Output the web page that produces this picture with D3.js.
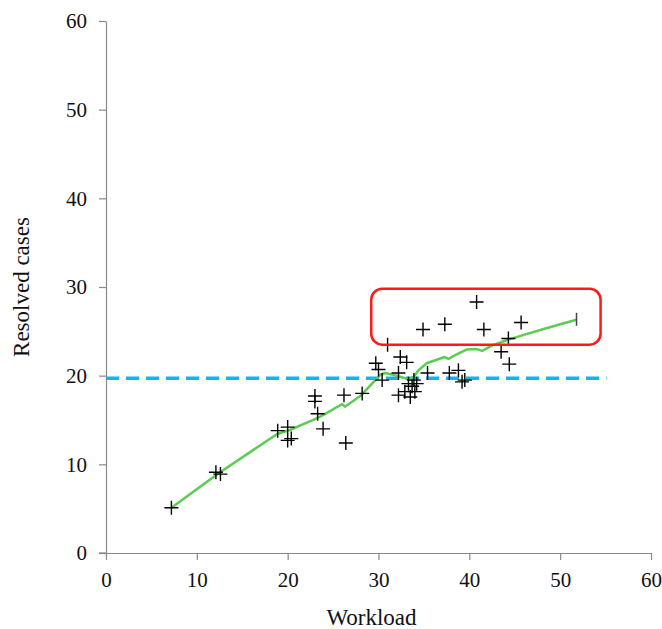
<!DOCTYPE html>
<html>
<head>
<meta charset="utf-8">
<script src="https://cdn.jsdelivr.net/npm/d3@7"></script>
<style>
  body { margin: 0; background: #fff; }
  .axis path, .axis line { stroke: #888; stroke-width: 1.2; }
  .axis text { font-family: "Liberation Serif", "Times New Roman", serif; font-size: 21px; fill: #111; }
  .title { font-family: "Liberation Serif", "Times New Roman", serif; font-size: 23px; fill: #111; }
</style>
</head>
<body>
<div id="chart"></div>
<script>
// scatter: workload vs resolved cases
var workload = [7.2, 12.1, 12.6, 18.9, 20.0, 20.0, 20.4, 23.0, 23.0, 23.3, 23.9, 26.2, 26.4, 28.2,
                29.7, 30.0, 30.4, 31.0, 32.2, 32.4, 33.1, 32.2, 32.9, 33.3, 33.5, 33.7, 33.9, 34.0,
                34.2, 35.4, 37.8, 38.8, 39.2, 39.5, 43.5, 44.4, 44.3, 40.8, 34.9, 37.3, 41.6, 45.7];
var resolved = [5.1, 9.1, 8.9, 13.8, 14.2, 12.7, 12.9, 17.7, 17.1, 15.7, 14.0, 17.8, 12.4, 18.0,
                21.4, 20.7, 19.5, 23.5, 20.3, 22.1, 21.5, 17.8, 18.2, 19.1, 17.6, 18.8, 19.5, 18.2,
                19.1, 20.3, 20.3, 20.6, 19.3, 19.5, 22.7, 21.3, 24.2, 28.3, 25.2, 25.8, 25.2, 26.0];

// smoothed trend (green)
var trendX = [7.2, 12.4, 18.8, 20.3, 23.0, 24.0, 26.0, 26.3, 28.0, 29.1, 30.2, 30.7, 31.6, 33.3, 33.9,
              34.4, 35.3, 36.4, 37.3, 37.7, 38.6, 39.7, 40.8, 41.4, 42.6, 44.1, 46.0, 48.0, 50.0, 51.8];
var trendY = [5.1, 9.0, 13.4, 13.9, 15.1, 15.6, 16.8, 16.5, 17.7, 18.9, 20.1, 20.3, 20.1, 19.6, 19.9,
              20.6, 21.4, 21.8, 22.1, 21.9, 22.4, 22.95, 23.0, 22.8, 23.45, 24.0, 24.6, 25.2, 25.8, 26.3];

var meanLevel = 19.7, meanEnd = 55.1;
var boxX = [29.2, 54.45], boxY = [23.5, 29.8];

var xTicks = [0, 10, 20, 30, 40, 50, 60];
var yTicks = [0, 10, 20, 30, 40, 50, 60];

var W = 662, H = 629;

var svg = d3.select("#chart").append("svg")
    .attr("width", W)
    .attr("height", H);

var x = d3.scaleLinear().domain([0, 60]).range([106, 651]);
var y = d3.scaleLinear().domain([0, 60]).range([553, 21]);

var xAxis = d3.axisBottom(x).tickValues(xTicks).tickSize(7).tickPadding(12).tickSizeOuter(0);
var yAxis = d3.axisLeft(y).tickValues(yTicks).tickSize(7).tickPadding(12).tickSizeOuter(0);

svg.append("g")
    .attr("class", "axis")
    .attr("transform", "translate(0," + y(0) + ")")
    .call(xAxis);

svg.append("g")
    .attr("class", "axis")
    .attr("transform", "translate(" + x(0) + ",0)")
    .call(yAxis);

// extend x axis line left to meet the 0 tick of y axis
svg.append("line")
    .attr("x1", x(0) - 7).attr("x2", x(0))
    .attr("y1", y(0)).attr("y2", y(0))
    .attr("stroke", "#888").attr("stroke-width", 1.2);

svg.append("text")
    .attr("class", "title")
    .attr("x", (x(0) + x(60)) / 2 - 7)
    .attr("y", 625)
    .attr("text-anchor", "middle")
    .text("Workload");

svg.append("text")
    .attr("class", "title")
    .attr("transform", "translate(29," + y(30) + ") rotate(-90)")
    .attr("text-anchor", "middle")
    .text("Resolved cases");

// mean line
svg.append("line")
    .attr("x1", x(0)).attr("x2", x(meanEnd))
    .attr("y1", y(meanLevel)).attr("y2", y(meanLevel))
    .attr("stroke", "#16b4ec")
    .attr("stroke-width", 3.5)
    .attr("stroke-dasharray", "13,7");

// trend line
var trend = d3.zip(trendX, trendY);
var line = d3.line()
    .x(function(d) { return x(d[0]); })
    .y(function(d) { return y(d[1]); });

svg.append("path")
    .datum(trend)
    .attr("d", line)
    .attr("fill", "none")
    .attr("stroke", "#5ccc52")
    .attr("stroke-width", 2.5)
    .attr("stroke-linejoin", "round");

var last = trend[trend.length - 1];
svg.append("line")
    .attr("x1", x(last[0])).attr("x2", x(last[0]))
    .attr("y1", y(last[1]) - 7).attr("y2", y(last[1]) + 6)
    .attr("stroke", "#444").attr("stroke-width", 1.5);

// points as plus markers
var pts = d3.zip(workload, resolved);
var s = 7;
svg.append("g").selectAll("path")
    .data(pts)
  .enter().append("path")
    .attr("d", function(d) {
      var cx = x(d[0]), cy = y(d[1]);
      return "M" + (cx - s) + "," + cy + "H" + (cx + s) + "M" + cx + "," + (cy - s) + "V" + (cy + s);
    })
    .attr("stroke", "#000")
    .attr("stroke-width", 1.4)
    .attr("fill", "none");

// highlight box
svg.append("rect")
    .attr("x", x(boxX[0]))
    .attr("y", y(boxY[1]))
    .attr("width", x(boxX[1]) - x(boxX[0]))
    .attr("height", y(boxY[0]) - y(boxY[1]))
    .attr("rx", 11).attr("ry", 11)
    .attr("fill", "none")
    .attr("stroke", "#ff1a1a")
    .attr("stroke-width", 2.5);
</script>
</body>
</html>
